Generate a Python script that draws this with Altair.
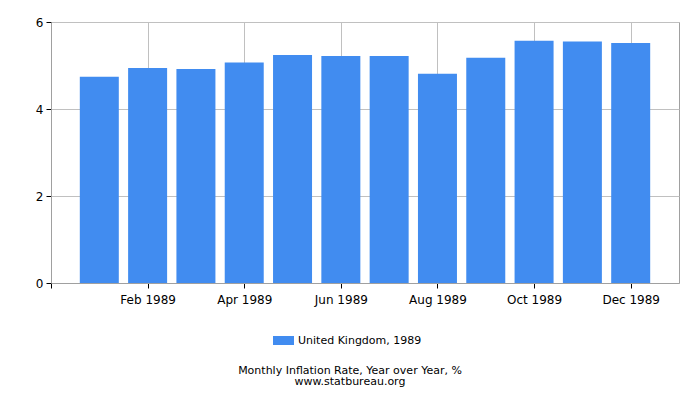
import altair as alt
import pandas as pd

months = ["Jan 1989", "Feb 1989", "Mar 1989", "Apr 1989", "May 1989", "Jun 1989",
          "Jul 1989", "Aug 1989", "Sep 1989", "Oct 1989", "Nov 1989", "Dec 1989"]
month_index = list(range(1, 13))
values = [4.74, 4.94, 4.92, 5.07, 5.24, 5.22, 5.22, 4.81, 5.18, 5.57, 5.55, 5.52]
series_name = "United Kingdom, 1989"

df = pd.DataFrame({"idx": month_index, "month": months, "value": values,
                   "series": [series_name] * 12})

label_expr = " : ".join(
    [f"datum.value == {i} ? '{m}'" for i, m in zip(month_index, months)]
) + " : ''"

FONT = "DejaVu Sans"
BLUE = "#418CF0"

chart = alt.Chart(df).mark_bar(size=39).encode(
    x=alt.X("idx:Q",
            scale=alt.Scale(domain=[0, 13], nice=False, zero=False, padding=0),
            axis=alt.Axis(values=[0, 2, 4, 6, 8, 10, 12], labelExpr=label_expr,
                          title=None, grid=True, gridColor="#c0c0c0",
                          domainColor="#a0a0a0", tickColor="#000000", tickSize=5,
                          labelFont=FONT, labelFontSize=12, labelColor="#000000",
                          labelPadding=6, labelOverlap=False)),
    y=alt.Y("value:Q",
            scale=alt.Scale(domain=[0, 6], nice=False),
            axis=alt.Axis(values=[0, 2, 4, 6], title=None, grid=True,
                          gridColor="#c0c0c0", domainColor="#a0a0a0",
                          tickColor="#000000", tickSize=5,
                          labelFont=FONT, labelFontSize=12, labelColor="#000000",
                          labelPadding=3)),
    color=alt.Color("series:N", scale=alt.Scale(range=[BLUE]),
                    legend=alt.Legend(title=None, orient="none", legendX=222, legendY=308,
                                      labelFont=FONT, labelFontSize=11,
                                      labelColor="#000000",
                                      symbolType="M-1,-0.43H1V0.43H-1Z",
                                      symbolSize=441, symbolStrokeWidth=0,
                                      symbolOpacity=1)),
).properties(
    width=628,
    height=261,
    autosize=alt.AutoSizeParams(type="none"),
    padding={"left": 43, "top": 14, "right": 6, "bottom": 106},
    title=alt.TitleParams(text=["Monthly Inflation Rate, Year over Year, %",
                                "www.statbureau.org"],
                          orient="bottom", anchor="middle", font=FONT,
                          fontSize=11, fontWeight="normal", color="#000000",
                          lineHeight=11, offset=19, dx=-15),
).configure_view(
    stroke="#a0a0a0"
)

chart.save("out.html", embed_options={"renderer": "svg", "actions": False})
